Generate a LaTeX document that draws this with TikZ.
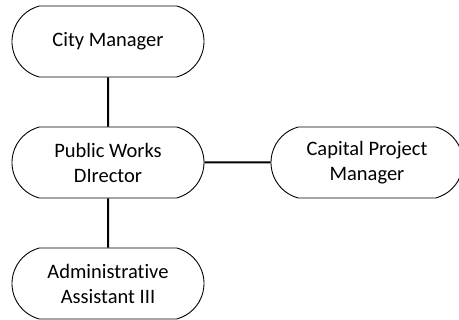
\documentclass[tikz,border=0pt]{standalone}
\usepackage{fontspec}
\setmainfont[Ligatures=NoCommon]{Carlito}
\usepackage{tikz}
\usetikzlibrary{arrows.meta}
\usetikzlibrary{shapes.misc}

\tikzset{
  post/.style={draw, line width=0.9pt, rounded rectangle, rounded rectangle arc length=150,
    minimum width=192pt, minimum height=71pt, inner sep=0pt, align=center,
    font=\fontsize{20.5}{25}\selectfont},
  link/.style={line width=2pt}
}

\begin{document}
\begin{tikzpicture}[x=1pt,y=-1pt]

\useasboundingbox (0,0) rectangle (459,320);

\node[post] (v1) at (108,41.5) {City Manager};
\node[post] (v2) at (108,162.5) {Public Works\\DIrector};
\node[post] (v3) at (367,162.5) {Capital Project\\Manager};
\node[post] (v4) at (108,283.5) {Administrative\\Assistant III};
\draw [link] (v1) -- (v2);
\draw [link] (v2) -- (v4);
\draw [link] (v2) -- (v3);
\end{tikzpicture}
\end{document}
